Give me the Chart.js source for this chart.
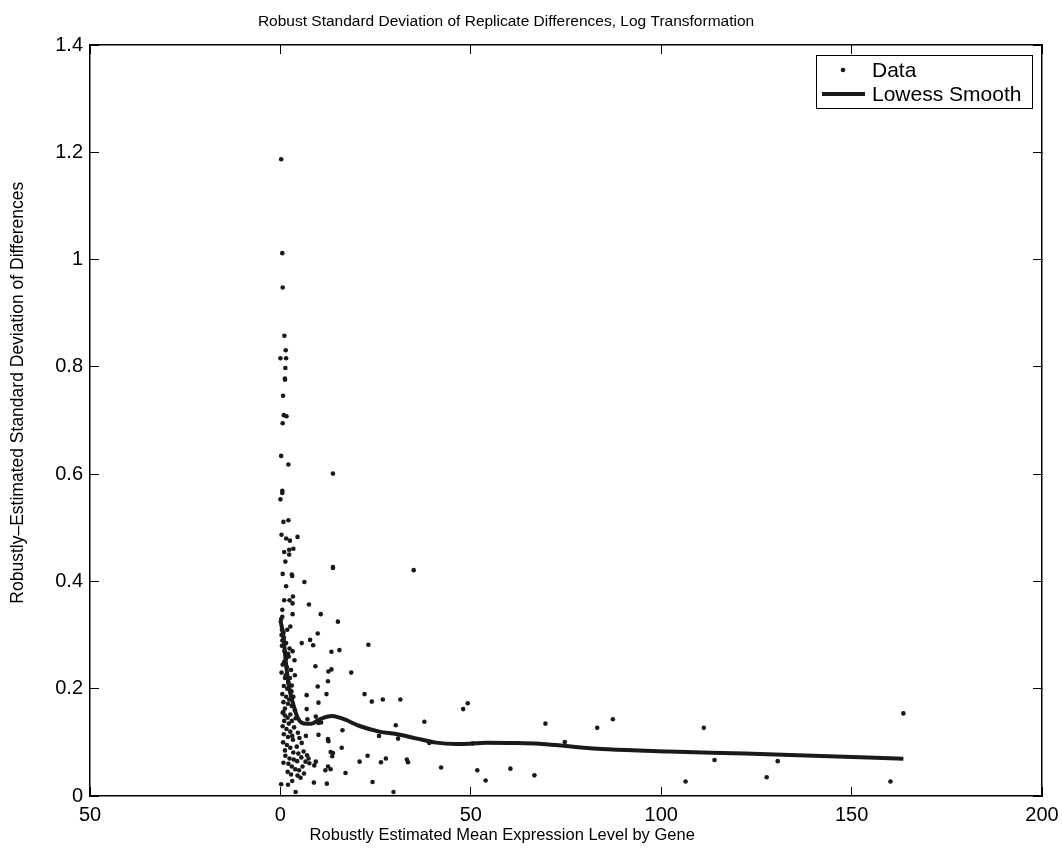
<!DOCTYPE html>
<html>
<head>
<meta charset="utf-8">
<script src="https://cdn.jsdelivr.net/npm/chart.js@4.4.1/dist/chart.umd.min.js"></script>
<style>
  html, body { margin: 0; padding: 0; background: #fff; }
  #wrap { width: 1062px; height: 866px; }
</style>
</head>
<body>
<div id="wrap"><canvas id="sdChart"></canvas></div>
<script>
// values
const dataX = [
  0.2, 0.5, 0.6, 1.05, 1.4, 0.0, 1.5, 1.3, 1.2, 1.2, 0.7, 0.9, 1.6, 0.6,
  0.2, 2.1, 13.8, 0.5, 0.5, 0.0, 0.8, 2.1, 0.3, 1.5, 2.5, 4.5, 1.0, 2.3, 3.4, 2.3,
  1.3, 0.6, 3.0, 3.1, 13.8, 13.8, 35.0, 1.5, 6.3, 1.0, 2.4, 3.3, 0.5, 3.2, 7.5, 3.2,
  10.6, 15.1, 0.2, 0.5, 2.6, 0.4, 0.8, 5.6, 7.8, 8.6, 9.8, 23.1, 13.4, 15.5, 0.5, 1.5,
  2.4, 3.2, 1.0, 1.5, 2.2, 3.7, 9.2, 13.4, 12.6, 18.6, 12.5, 3.8, 1.2, 2.1, 3.0, 9.8,
  12.1, 22.1, 6.9, 24.0, 26.9, 31.5, 10.0, 2.3, 3.0, 1.2, 0.8, 0.6, 1.2, 1.9, 2.6, 6.9,
  7.1, 9.3, 10.0, 10.7, 16.3, 30.3, 37.8, 49.2, 48.0, 6.7, 10.0, 12.5, 12.6, 25.9, 30.9, 39.1,
  16.1, 0.7, 1.7, 1.2, 2.6, 3.3, 4.3, 5.6, 3.4, 4.7, 6.1, 7.0, 7.4, 6.6, 7.6, 13.2,
  13.8, 13.6, 22.9, 20.8, 26.4, 27.7, 33.2, 33.5, 42.2, 11.8, 12.5, 13.2, 8.9, 9.3, 2.1, 3.0,
  3.9, 4.9, 5.3, 17.1, 24.2, 8.8, 12.2, 0.2, 2.0, 3.1, 4.0, 29.7,
  50.5, 51.7, 53.9, 60.4, 66.7, 69.6, 74.7, 83.2, 87.3, 106.4, 111.2, 114.0, 127.7, 130.6, 160.2, 163.6,
  0.3, 0.9, 1.8, 0.4, 1.1, 2.0, 0.6, 1.7, 2.8, 0.3, 1.4, 2.5, 0.9, 1.8, 2.9, 0.5,
  1.5, 3.4, 0.8, 2.0, 3.8, 1.0, 2.2, 3.0, 4.0, 0.6, 1.6, 2.6, 3.6, 4.6, 0.9, 2.0,
  3.1, 5.0, 1.3, 2.4, 3.5, 4.4, 5.5, 0.8, 1.9, 2.8, 5.8, 6.2, 4.5
];
const dataY = [
  1.187, 1.012, 0.948, 0.858, 0.831, 0.816, 0.816, 0.798, 0.778, 0.776, 0.746, 0.710, 0.708, 0.695,
  0.634, 0.618, 0.601, 0.569, 0.565, 0.553, 0.511, 0.514, 0.487, 0.480, 0.476, 0.483, 0.455, 0.459, 0.461, 0.450,
  0.437, 0.414, 0.413, 0.410, 0.427, 0.425, 0.421, 0.391, 0.399, 0.365, 0.365, 0.372, 0.347, 0.359, 0.357, 0.339,
  0.339, 0.325, 0.330, 0.334, 0.316, 0.310, 0.305, 0.285, 0.291, 0.281, 0.303, 0.282, 0.269, 0.272, 0.290, 0.285,
  0.275, 0.270, 0.250, 0.257, 0.260, 0.253, 0.242, 0.236, 0.232, 0.230, 0.214, 0.225, 0.220, 0.212, 0.206, 0.204,
  0.190, 0.190, 0.188, 0.176, 0.180, 0.180, 0.174, 0.180, 0.168, 0.163, 0.157, 0.155, 0.150, 0.146, 0.152, 0.162,
  0.143, 0.148, 0.136, 0.137, 0.1225, 0.132, 0.1385, 0.173, 0.162, 0.112, 0.114, 0.106, 0.102, 0.112, 0.107, 0.099,
  0.090, 0.100, 0.095, 0.085, 0.090, 0.105, 0.092, 0.099, 0.081, 0.079, 0.083, 0.076, 0.070, 0.064, 0.061, 0.082,
  0.080, 0.074, 0.075, 0.064, 0.063, 0.070, 0.068, 0.063, 0.053, 0.048, 0.055, 0.050, 0.057, 0.064, 0.060, 0.055,
  0.050, 0.048, 0.034, 0.043, 0.026, 0.025, 0.023, 0.022, 0.021, 0.028, 0.0075, 0.0075,
  0.098, 0.048, 0.029, 0.051, 0.0385, 0.135, 0.1006, 0.127, 0.143, 0.027, 0.127, 0.067, 0.035, 0.065, 0.027, 0.154,
  0.300, 0.295, 0.310, 0.280, 0.270, 0.265, 0.245, 0.240, 0.235, 0.230, 0.225, 0.220, 0.205, 0.200, 0.195, 0.190,
  0.185, 0.185, 0.175, 0.172, 0.160, 0.140, 0.135, 0.140, 0.145, 0.130, 0.125, 0.120, 0.128, 0.118, 0.115, 0.110,
  0.112, 0.108, 0.075, 0.070, 0.068, 0.065, 0.072, 0.062, 0.045, 0.040, 0.055, 0.042, 0.038
];
const lowessX = [0, 0.8, 1.2, 2.1, 3.3, 4.6, 5.9, 8.1, 10.3, 13.6, 16, 20.8, 26, 30.4, 35.6, 40.9, 46.1, 49.6, 53.9, 61.9, 68, 75, 86, 102, 122, 142, 163.6];
const lowessY = [0.328, 0.297, 0.266, 0.21, 0.173, 0.145, 0.1355, 0.1345, 0.143, 0.149, 0.145, 0.1305, 0.12, 0.1156, 0.1075, 0.0995, 0.097, 0.0975, 0.0995, 0.099, 0.0975, 0.093, 0.087, 0.083, 0.079, 0.0745, 0.0696];
const xTicks = [-50, 0, 50, 100, 150, 200];
const yTicks = [0, 0.2, 0.4, 0.6, 0.8, 1, 1.2, 1.4];
const chartTitle = 'Robust Standard Deviation of Replicate Differences, Log Transformation';
const xTitle = 'Robustly Estimated Mean Expression Level by Gene';
const yTitle = 'Robustly\u2013Estimated Standard Deviation of Differences';
const legendNames = ['Data', 'Lowess Smooth'];

const fontFamily = "'Liberation Sans', Arial, sans-serif";
Chart.defaults.font.family = fontFamily;
Chart.defaults.color = '#000';

const ink = '#1a1a1a';

function toPoints(xs, ys) {
  return xs.map((x, i) => ({x: x, y: ys[i]}));
}

// inward tick marks + black frame, like the matlab box
function boxAxis(extra) {
  return Object.assign({
    type: 'linear',
    grid: { display: true, drawOnChartArea: false, drawTicks: true, tickLength: -9, color: '#000', lineWidth: 1 },
    border: { display: true, color: '#000', width: 1.5 }
  }, extra);
}

// title and axis labels sit a bit off centre in the original, so draw them here
const axisLabels = {
  id: 'axisLabels',
  afterDraw(chart) {
    const ctx = chart.ctx;
    const a = chart.chartArea;
    ctx.save();
    ctx.fillStyle = '#000';
    ctx.textAlign = 'center';
    ctx.textBaseline = 'middle';
    ctx.font = '15.5px ' + fontFamily;
    ctx.fillText(chartTitle, a.left + (a.right - a.left) * 0.437, 22);
    ctx.font = '16.5px ' + fontFamily;
    ctx.fillText(xTitle, a.left + (a.right - a.left) * 0.433, 835);
    ctx.font = '17.5px ' + fontFamily;
    ctx.translate(18, a.top + (a.bottom - a.top) * 0.463);
    ctx.rotate(-Math.PI / 2);
    ctx.fillText(yTitle, 0, 0);
    ctx.restore();
  }
};

// legend with a frame drawn in the top right corner of the plot
const boxLegend = {
  id: 'boxLegend',
  afterDraw(chart) {
    const ctx = chart.ctx;
    const area = chart.chartArea;
    const w = 216, h = 53;
    const left = area.right - 10 - w;
    const top = area.top + 10;
    ctx.save();
    ctx.fillStyle = '#fff';
    ctx.fillRect(left, top, w, h);
    ctx.strokeStyle = '#000';
    ctx.lineWidth = 1;
    ctx.strokeRect(left + 0.5, top + 0.5, w, h);
    // Data marker
    ctx.fillStyle = ink;
    ctx.beginPath();
    ctx.arc(left + 27, top + 15, 2.3, 0, Math.PI * 2);
    ctx.fill();
    // Lowess line sample
    ctx.strokeStyle = ink;
    ctx.lineWidth = 4;
    ctx.beginPath();
    ctx.moveTo(left + 6, top + 39);
    ctx.lineTo(left + 49, top + 39);
    ctx.stroke();
    ctx.fillStyle = '#000';
    ctx.font = '21px ' + fontFamily;
    ctx.textBaseline = 'middle';
    ctx.textAlign = 'left';
    ctx.fillText(legendNames[0], left + 56, top + 16);
    ctx.fillText(legendNames[1], left + 56, top + 40);
    ctx.restore();
  }
};

const ctx = document.getElementById('sdChart');
new Chart(ctx, {
  type: 'scatter',
  data: {
    datasets: [
      {
        label: legendNames[0],
        data: toPoints(dataX, dataY),
        pointRadius: 2.3,
        pointHoverRadius: 2.3,
        pointBackgroundColor: ink,
        pointBorderWidth: 0,
        showLine: false
      },
      {
        label: legendNames[1],
        data: toPoints(lowessX, lowessY),
        showLine: true,
        pointRadius: 0,
        borderColor: ink,
        borderWidth: 4,
        cubicInterpolationMode: 'monotone',
        fill: false
      }
    ]
  },
  options: {
    responsive: true,
    maintainAspectRatio: false,
    animation: false,
    events: [],
    layout: { padding: { left: 0, right: 20, top: 45, bottom: 0 } },
    plugins: {
      legend: { display: false },
      tooltip: { enabled: false },
      title: { display: false }
    },
    scales: {
      x: boxAxis({
        position: 'bottom',
        min: -50, max: 200,
        afterBuildTicks: s => { s.ticks = xTicks.map(v => ({value: v})); },
        ticks: { padding: 16, font: { size: 20 }, color: '#000', maxRotation: 0,
          callback: v => String(Math.abs(v)) },
        afterFit: s => { s.height = 70; s.paddingLeft = 0; s.paddingRight = 0; }
      }),
      y: boxAxis({
        position: 'left',
        min: 0, max: 1.4,
        afterBuildTicks: s => { s.ticks = yTicks.map(v => ({value: v})); },
        ticks: { padding: 16, font: { size: 20 }, color: '#000',
          callback: v => String(parseFloat(v.toFixed(1))) },
        afterFit: s => { s.width = 90; s.paddingTop = 0; s.paddingBottom = 0; }
      }),
      x2: boxAxis({
        position: 'top',
        min: -50, max: 200,
        afterBuildTicks: s => { s.ticks = xTicks.map(v => ({value: v})); },
        ticks: { display: false },
        afterFit: s => { s.height = 0; s.paddingLeft = 0; s.paddingRight = 0; }
      }),
      y2: boxAxis({
        position: 'right',
        min: 0, max: 1.4,
        afterBuildTicks: s => { s.ticks = yTicks.map(v => ({value: v})); },
        ticks: { display: false },
        afterFit: s => { s.width = 0; s.paddingTop = 0; s.paddingBottom = 0; }
      })
    }
  },
  plugins: [axisLabels, boxLegend]
});
</script>
</body>
</html>
